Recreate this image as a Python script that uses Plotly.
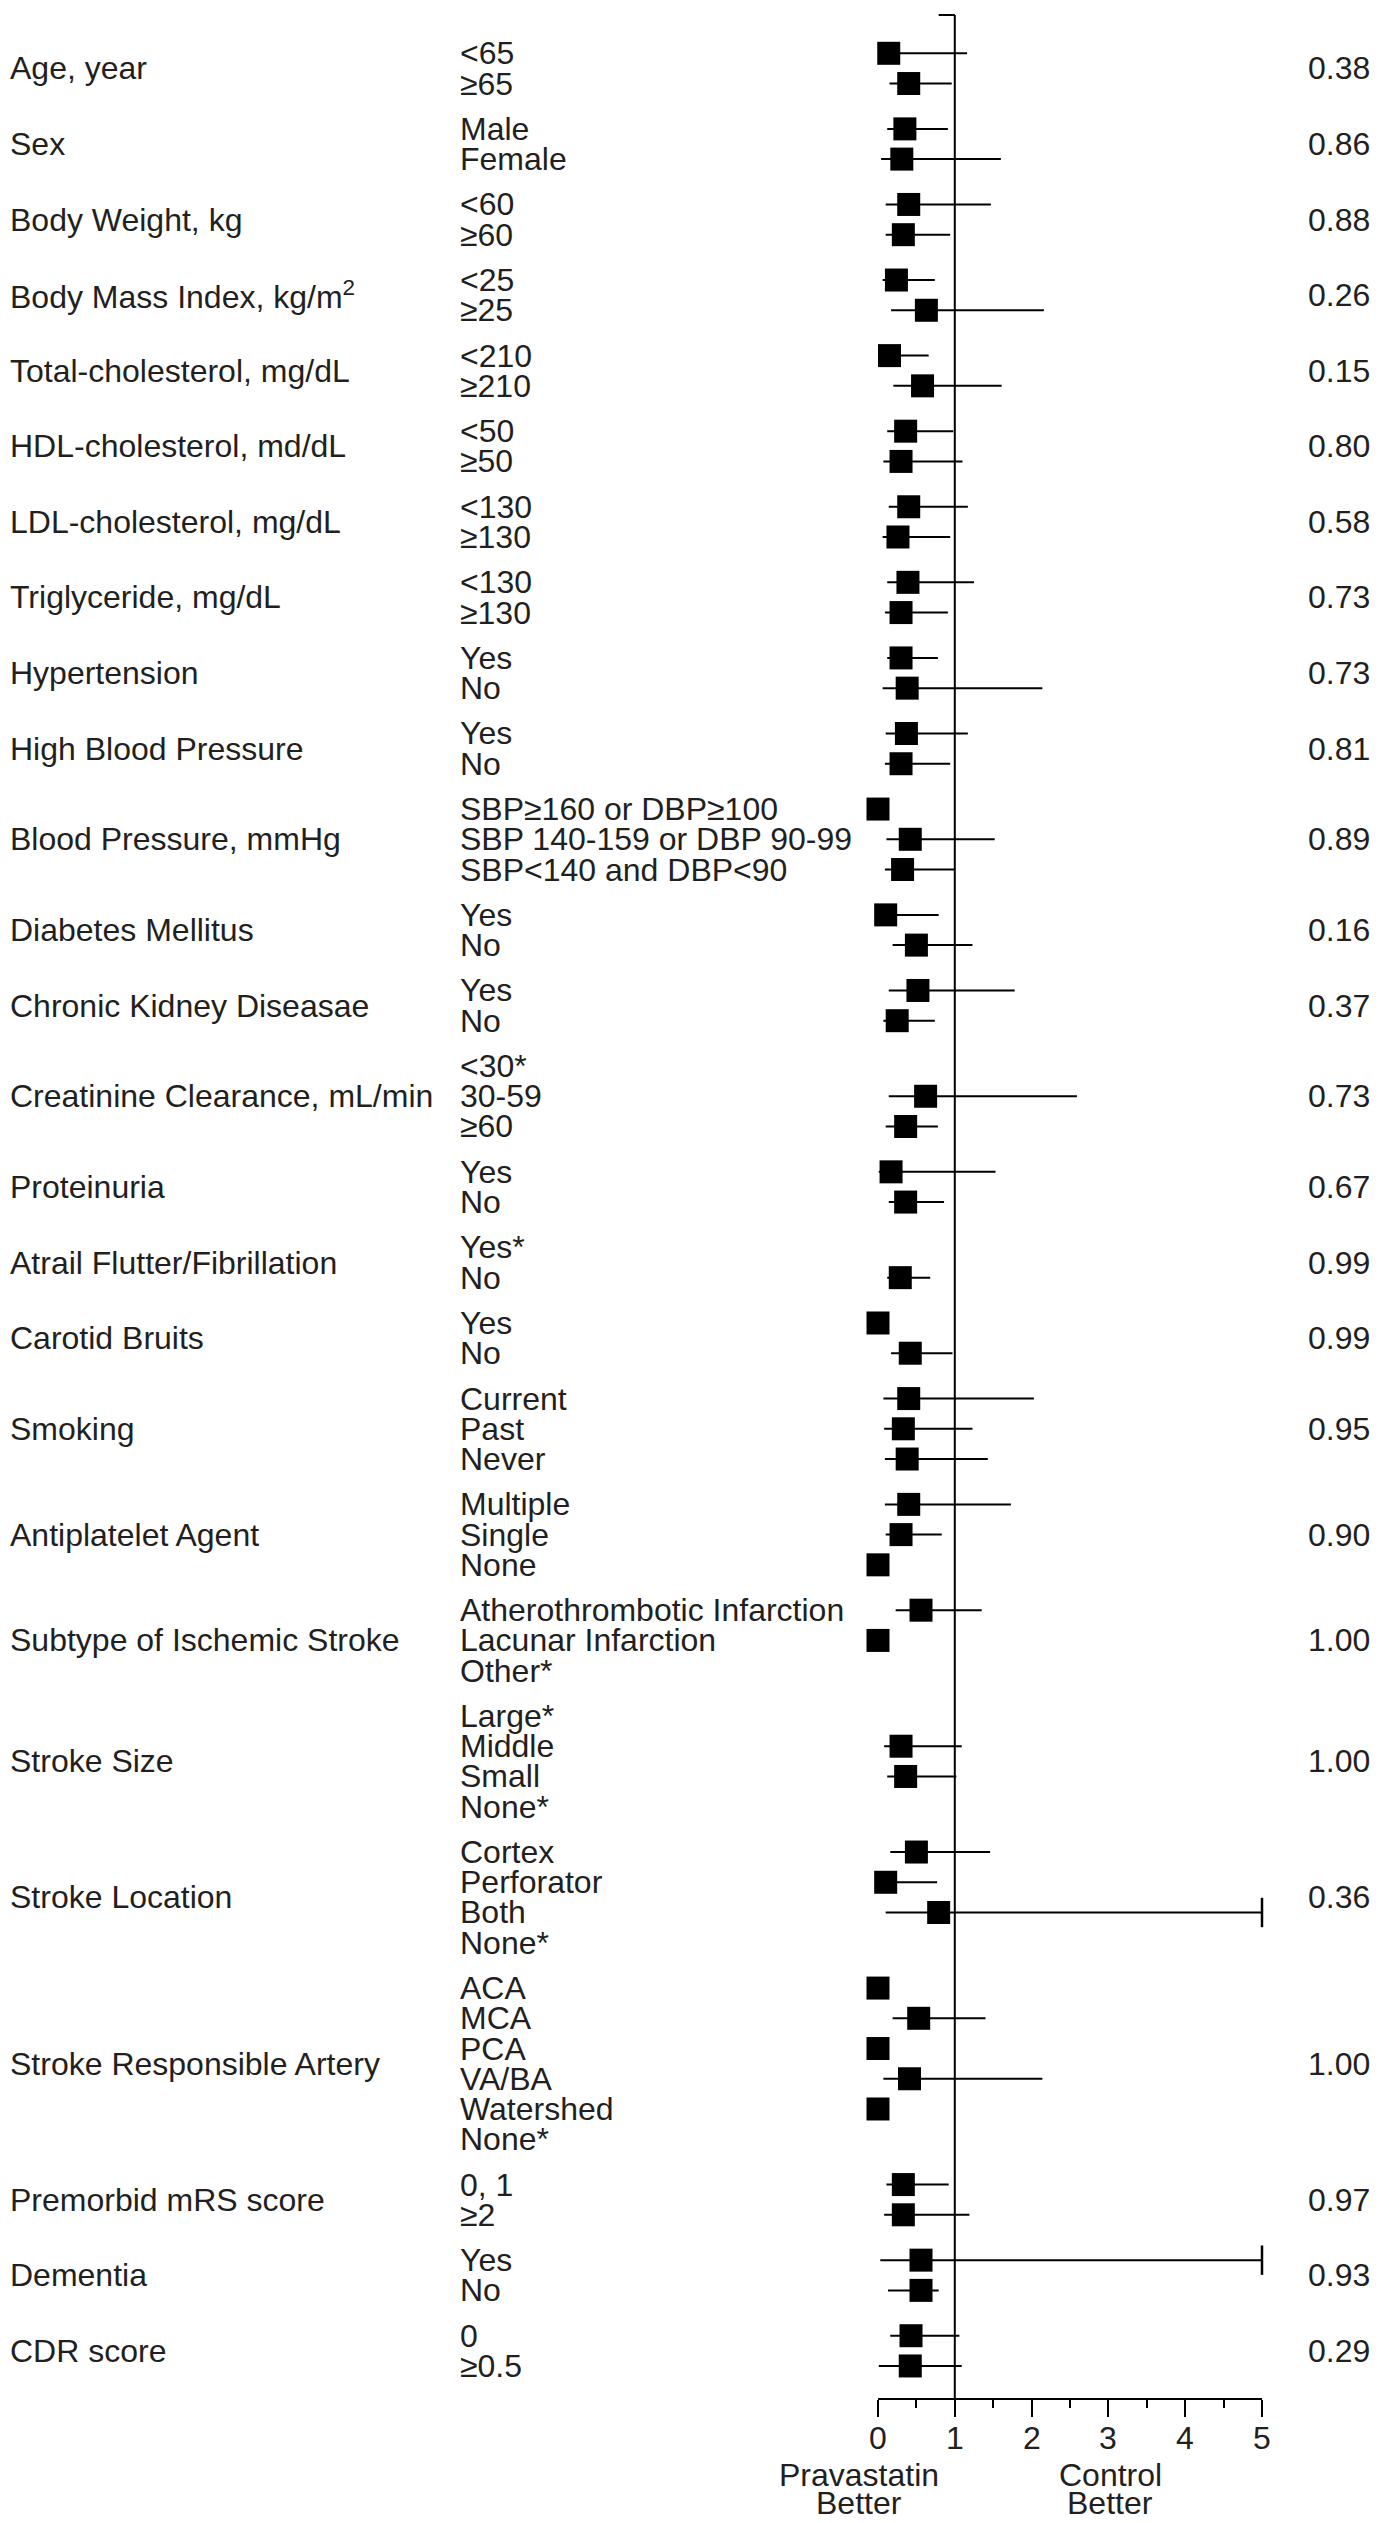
import plotly.graph_objects as go

# ---------------- data ----------------
groups = [
    "Age, year", "Sex", "Body Weight, kg", "Body Mass Index, kg/m<sup>2</sup>",
    "Total-cholesterol, mg/dL", "HDL-cholesterol, md/dL", "LDL-cholesterol, mg/dL",
    "Triglyceride, mg/dL", "Hypertension", "High Blood Pressure",
    "Blood Pressure, mmHg", "Diabetes Mellitus", "Chronic Kidney Diseasae",
    "Creatinine Clearance, mL/min", "Proteinuria", "Atrail Flutter/Fibrillation",
    "Carotid Bruits", "Smoking", "Antiplatelet Agent", "Subtype of Ischemic Stroke",
    "Stroke Size", "Stroke Location", "Stroke Responsible Artery",
    "Premorbid mRS score", "Dementia", "CDR score",
]

subgroups = [
    ["<65", "≥65"],
    ["Male", "Female"],
    ["<60", "≥60"],
    ["<25", "≥25"],
    ["<210", "≥210"],
    ["<50", "≥50"],
    ["<130", "≥130"],
    ["<130", "≥130"],
    ["Yes", "No"],
    ["Yes", "No"],
    ["SBP≥160 or DBP≥100", "SBP 140-159 or DBP 90-99", "SBP<140 and DBP<90"],
    ["Yes", "No"],
    ["Yes", "No"],
    ["<30*", "30-59", "≥60"],
    ["Yes", "No"],
    ["Yes*", "No"],
    ["Yes", "No"],
    ["Current", "Past", "Never"],
    ["Multiple", "Single", "None"],
    ["Atherothrombotic Infarction", "Lacunar Infarction", "Other*"],
    ["Large*", "Middle", "Small", "None*"],
    ["Cortex", "Perforator", "Both", "None*"],
    ["ACA", "MCA", "PCA", "VA/BA", "Watershed", "None*"],
    ["0, 1", "≥2"],
    ["Yes", "No"],
    ["0", "≥0.5"],
]

p_values = ["0.38", "0.86", "0.88", "0.26", "0.15", "0.80", "0.58", "0.73", "0.73",
            "0.81", "0.89", "0.16", "0.37", "0.73", "0.67", "0.99", "0.99", "0.95",
            "0.90", "1.00", "1.00", "0.36", "1.00", "0.97", "0.93", "0.29"]

# hazard ratio estimates, lower and upper CI (None = not shown)
estimate = [
    0.14, 0.40,  0.35, 0.31,  0.40, 0.33,  0.24, 0.63,  0.15, 0.58,
    0.36, 0.30,  0.40, 0.26,  0.39, 0.30,  0.30, 0.38,  0.37, 0.30,
    0.00, 0.42, 0.32,  0.10, 0.50,  0.52, 0.25,  None, 0.62, 0.36,
    0.17, 0.36,  None, 0.29,  0.00, 0.42,  0.40, 0.33, 0.38,
    0.40, 0.30, 0.00,  0.56, 0.00, None,  None, 0.30, 0.36, None,
    0.50, 0.10, 0.79, None,  0.00, 0.53, 0.00, 0.41, 0.00, None,
    0.33, 0.33,  0.56, 0.56,  0.43, 0.42,
]
lower = [
    0.01, 0.15,  0.12, 0.04,  0.10, 0.10,  0.06, 0.17,  0.01, 0.20,
    0.12, 0.07,  0.14, 0.06,  0.12, 0.09,  0.12, 0.06,  0.10, 0.09,
    None, 0.11, 0.09,  0.01, 0.19,  0.14, 0.07,  None, 0.14, 0.10,
    0.01, 0.14,  None, 0.12,  None, 0.17,  0.07, 0.08, 0.09,
    0.09, 0.10, None,  0.23, None, None,  None, 0.08, 0.12, None,
    0.16, 0.01, 0.10, None,  None, 0.19, None, 0.07, None, None,
    0.11, 0.08,  0.03, 0.13,  0.16, 0.01,
]
upper = [
    1.16, 0.96,  0.91, 1.60,  1.47, 0.94,  0.74, 2.16,  0.66, 1.61,
    0.98, 1.10,  1.17, 0.94,  1.25, 0.91,  0.78, 2.14,  1.17, 0.94,
    None, 1.52, 0.99,  0.79, 1.23,  1.78, 0.74,  None, 2.59, 0.78,
    1.53, 0.86,  None, 0.68,  None, 0.97,  2.03, 1.23, 1.43,
    1.73, 0.83, None,  1.35, None, None,  None, 1.09, 1.02, None,
    1.46, 0.77, 5.00, None,  None, 1.40, None, 2.14, None, None,
    0.92, 1.19,  5.00, 0.79,  1.06, 1.09,
]

x_ticks = [0, 1, 2, 3, 4, 5]
x_range = [0, 5]
favour_left = ["Pravastatin", "Better"]
favour_right = ["Control", "Better"]

# ---------------- layout geometry ----------------
OFF = 8                      # default page body margin of the browser
W, H = 1384 - 2 * OFF, 2523 - 2 * OFF
ML, MR, MT, MB = 870, 114, 7, 117
PW = W - ML - MR
PH = H - MT - MB
GAP = 0.5  # extra spacing between groups (in row units)
Y_TOP, Y_BOT = -1.267, 77.56

def paper_x(px):
    return (px - OFF - ML) / PW

def paper_y(py):
    return (H - MB - (py - OFF)) / PH

# row positions
row_pos, group_pos = [], []
pos = 0.0
for gi, subs in enumerate(groups):
    start = pos
    for _ in subgroups[gi]:
        row_pos.append(pos)
        pos += 1
    group_pos.append((start + pos - 1) / 2)
    pos += GAP

FONT = "Liberation Sans, Arial, Helvetica, sans-serif"
TXT = "#231f20"
FS = 32

fig = go.Figure()

# CI lines
cx, cy = [], []
for lo, hi, y in zip(lower, upper, row_pos):
    if lo is None or hi is None:
        continue
    cx += [lo, min(hi, x_range[1]), None]
    cy += [y, y, None]
fig.add_trace(go.Scatter(x=cx, y=cy, mode="lines",
                         line=dict(color="black", width=2),
                         hoverinfo="skip", showlegend=False, cliponaxis=False))

# truncated caps
capx = [x_range[1] for hi in upper if hi is not None and hi >= x_range[1]]
capy = [y for hi, y in zip(upper, row_pos) if hi is not None and hi >= x_range[1]]
fig.add_trace(go.Scatter(x=capx, y=capy, mode="markers",
                         marker=dict(symbol="line-ns", size=21,
                                     line=dict(color="black", width=2.5)),
                         showlegend=False, cliponaxis=False))

# point estimates
px_, py_ = [], []
for e, y in zip(estimate, row_pos):
    if e is None:
        continue
    px_.append(e)
    py_.append(y)
fig.add_trace(go.Scatter(x=px_, y=py_, mode="markers",
                         marker=dict(symbol="square", size=23, color="black",
                                     line=dict(width=0)),
                         showlegend=False, cliponaxis=False))

font = dict(family=FONT, size=FS, color=TXT)
ann = []
# group labels & p-values
for g, gp, p in zip(groups, group_pos, p_values):
    ann.append(dict(text=g, x=paper_x(8), xref="paper", y=gp, yref="y",
                    xanchor="left", yanchor="middle", showarrow=False, font=font))
    ann.append(dict(text=p, x=paper_x(1372), xref="paper", y=gp, yref="y",
                    xanchor="right", yanchor="middle", showarrow=False, font=font))
# subgroup labels
flat_subs = [s for subs in subgroups for s in subs]
for s, y in zip(flat_subs, row_pos):
    ann.append(dict(text=s, x=paper_x(458), xref="paper", y=y, yref="y",
                    xanchor="left", yanchor="middle", showarrow=False, font=font))
# tick labels (drawn on the x scale)
for t in x_ticks:
    ann.append(dict(text=str(t), x=t, xref="x", y=paper_y(2438), yref="paper",
                    xanchor="center", yanchor="middle", showarrow=False, font=font))
# favour labels
for i, (a, b) in enumerate(zip(favour_left, favour_right)):
    yy = paper_y(2475 + 28 * i)
    ann.append(dict(text=a, x=paper_x(859), xref="paper", y=yy, yref="paper",
                    xanchor="center", yanchor="middle", showarrow=False, font=font))
    ann.append(dict(text=b, x=paper_x(1110), xref="paper", y=yy, yref="paper",
                    xanchor="center", yanchor="middle", showarrow=False, font=font))

shapes = [
    dict(type="line", xref="x", yref="paper", x0=1, x1=1, y0=0, y1=1,
         line=dict(color="black", width=2)),
    dict(type="line", xref="x", yref="paper", x0=0.79, x1=1, y0=1, y1=1,
         line=dict(color="black", width=2)),
]

fig.update_layout(
    width=W, height=H,
    margin=dict(l=ML, r=MR, t=MT, b=MB, pad=0),
    paper_bgcolor="white", plot_bgcolor="white",
    annotations=ann, shapes=shapes,
    xaxis=dict(range=x_range, tickvals=x_ticks, ticks="outside", ticklen=17,
               tickwidth=2, tickcolor="black", showline=True, linewidth=2,
               linecolor="black", showgrid=False, zeroline=False,
               showticklabels=False,
               minor=dict(dtick=0.5, ticks="outside", ticklen=8, tickwidth=2,
                          tickcolor="black", showgrid=False)),
    yaxis=dict(range=[Y_BOT, Y_TOP], visible=False, showgrid=False, zeroline=False),
    showlegend=False,
)

fig.write_html("out.html")
